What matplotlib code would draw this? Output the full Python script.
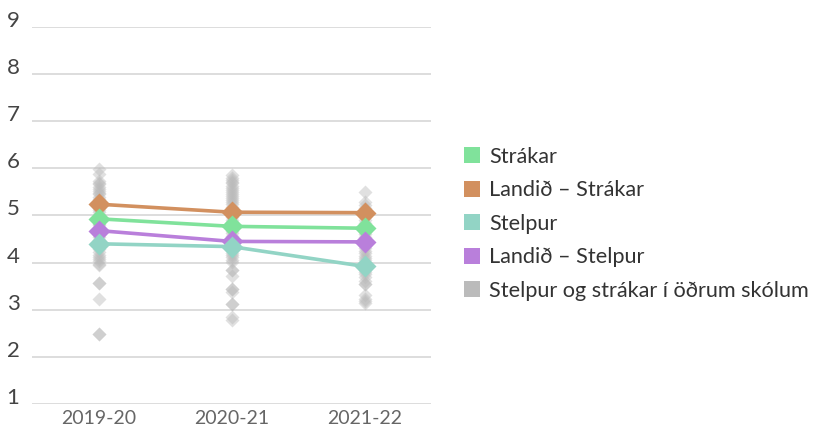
import matplotlib.pyplot as plt
from matplotlib.patches import Patch
import numpy as np

plt.rcParams['font.family'] = ['Lato', 'DejaVu Sans']

years = ['2019-20', '2020-21', '2021-22']

# skólinn og landið
strakar = [4.93, 4.77, 4.73]
landid_strakar = [5.24, 5.07, 5.06]
stelpur = [4.40, 4.34, 3.92]
landid_stelpur = [4.68, 4.45, 4.44]

# aðrir skólar, eitt gildi á hvern skóla
adrir_2019 = [5.98, 5.88, 5.74, 5.70, 5.66, 5.61, 5.57, 5.52, 5.48, 5.45, 5.40, 5.36,
              5.31, 5.27, 5.21, 5.16, 5.12, 5.07, 5.02, 4.97, 4.92, 4.88, 4.83, 4.79,
              4.73, 4.68, 4.64, 4.58, 4.54, 4.49, 4.44, 4.38, 4.33, 4.28, 4.22, 4.17,
              4.12, 4.08, 4.03, 3.97, 3.94, 3.57, 3.57, 3.22, 2.48, 2.48]
adrir_2020 = [5.85, 5.80, 5.76, 5.72, 5.68, 5.63, 5.59, 5.55, 5.50, 5.46, 5.41, 5.37,
              5.33, 5.28, 5.24, 5.19, 5.14, 5.10, 5.05, 5.00, 4.96, 4.91, 4.86, 4.82,
              4.77, 4.72, 4.67, 4.62, 4.57, 4.52, 4.47, 4.42, 4.37, 4.31, 4.26, 4.21,
              4.16, 4.11, 4.06, 4.02, 3.85, 3.85, 3.72, 3.43, 3.43, 3.38, 3.12, 3.12,
              2.85, 2.78]
adrir_2021 = [5.50, 5.28, 5.22, 5.16, 5.11, 5.05, 5.00, 4.96, 4.90, 4.85, 4.80, 4.76,
              4.70, 4.65, 4.60, 4.55, 4.50, 4.45, 4.40, 4.35, 4.30, 4.25, 4.20, 4.15,
              4.10, 4.05, 4.00, 3.95, 3.90, 3.85, 3.80, 3.75, 3.70, 3.62, 3.55, 3.55,
              3.32, 3.22, 3.18, 3.15]
adrir = [adrir_2019, adrir_2020, adrir_2021]

labels = ['Strákar', 'Landið – Strákar', 'Stelpur', 'Landið – Stelpur',
          'Stelpur og strákar í öðrum skólum']
colors = ['#80e29b', '#d2905f', '#92d4c5', '#b97fdb', '#bbbbbb']

fig = plt.figure(figsize=(8.15, 4.28), dpi=100)
ax = fig.add_axes([0.0393, 0.056, 0.4896, 0.881])

x = np.arange(len(years))

for i, vals in enumerate(adrir):
    ax.plot([x[i]] * len(vals), vals, 'D', ms=7.5, color=colors[4], alpha=0.45,
            mec='none', zorder=2)

series = [landid_strakar, strakar, landid_stelpur, stelpur]
scol = [colors[1], colors[0], colors[3], colors[2]]
for vals, c in zip(series, scol):
    ax.plot(x, vals, '-', color=c, lw=2.6, zorder=3)
    ax.plot(x, vals, 'D', ms=11, color=c, mec='none', zorder=4)

ax.set_xlim(-0.5, 2.5)
ax.set_ylim(1, 9)
ax.set_yticks(range(1, 10))
ax.set_xticks(x)
ax.set_xticklabels(years)
ax.yaxis.grid(True, color='#dddddd', lw=1.4)
ax.set_axisbelow(True)
for s in ax.spines.values():
    s.set_visible(False)
ax.tick_params(axis='y', length=0, pad=9, labelsize=16, labelcolor='#444444')
ax.tick_params(axis='x', length=0, pad=4, labelsize=14, labelcolor='#666666')
for t in ax.get_yticklabels():
    t.set_verticalalignment('baseline')

handles = [Patch(facecolor=c, edgecolor='none') for c in colors]
fig.legend(handles, labels, loc='center left', bbox_to_anchor=(0.545, 0.477),
           frameon=False, fontsize=15.6, handlelength=0.75, handleheight=0.75,
           handletextpad=0.42, labelspacing=0.62, labelcolor='#333333')

fig.savefig('out.png', dpi=100)
